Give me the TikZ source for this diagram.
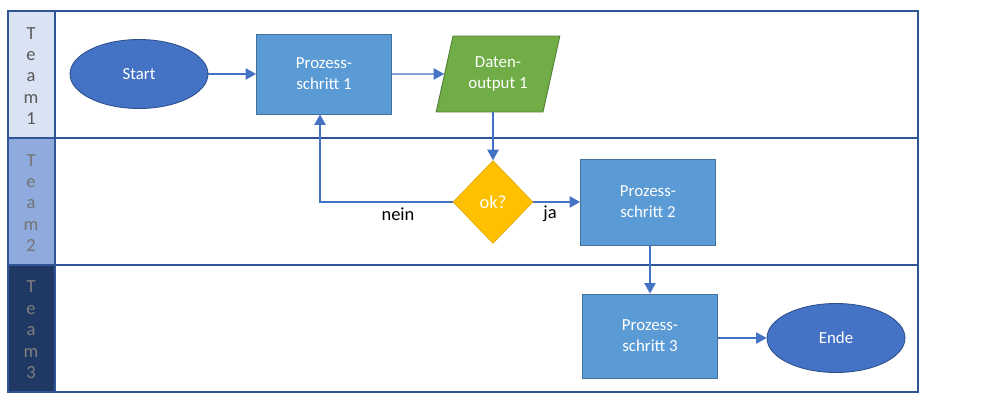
\documentclass[tikz,border=0pt]{standalone}
\usepackage{fontspec}
\setmainfont{Carlito}
\usetikzlibrary{shapes.geometric,arrows.meta}
\definecolor{laneline}{HTML}{2F5597}
\definecolor{teamA}{HTML}{DAE3F3}
\definecolor{teamB}{HTML}{8FAADC}
\definecolor{teamC}{HTML}{203864}
\definecolor{procfill}{HTML}{5B9BD5}
\definecolor{procdraw}{HTML}{41719C}
\definecolor{termfill}{HTML}{4472C4}
\definecolor{termdraw}{HTML}{2F528F}
\definecolor{datafill}{HTML}{70AD47}
\definecolor{datadraw}{HTML}{507E32}
\definecolor{decfill}{HTML}{FFC000}
\definecolor{arrowcol}{HTML}{4472C4}
\tikzset{
  process/.style={rectangle, fill=procfill, draw=procdraw, line width=0.5pt,
    minimum width=2.7cm, minimum height=1.6cm, text=white, align=center},
  terminal/.style={ellipse, fill=termfill, draw=termdraw, line width=0.5pt,
    minimum width=2.76cm, minimum height=1.38cm, text=white},
  dataout/.style={trapezium, trapezium left angle=74, trapezium right angle=106,
    trapezium stretches=true, fill=datafill, draw=datadraw, line width=0.5pt,
    minimum width=2.48cm, minimum height=1.52cm, text=white, align=center},
  decision/.style={diamond, fill=decfill, draw=decfill!85!black, line width=0.3pt,
    minimum width=1.6cm, minimum height=1.66cm, inner sep=0pt, text=white,
    font=\fontsize{10.5}{12}\selectfont},
  flow/.style={draw=arrowcol, line width=0.6pt, -{Triangle[length=6pt,width=6.5pt]}},
  lane/.style={draw=laneline, line width=1.1pt},
  teamlabel/.style={align=center, font=\fontsize{10.5}{12.2}\selectfont},
  branch/.style={text=black, font=\fontsize{10.5}{12}\selectfont}
}
\begin{document}
\begin{tikzpicture}[x=0.02cm, y=-0.02cm, font=\fontsize{9.6}{12}\selectfont]
\useasboundingbox (0,0) rectangle (1000,405);
% team column
\fill[teamA] (8,11) rectangle (55,138);
\fill[teamB] (8,138) rectangle (55,265);
\fill[teamC] (8,265) rectangle (55,392);
\node[teamlabel, text=black!65] (team1) at (31,76) {T\\e\\a\\m\\1};
\node[teamlabel, text=black!55] (team2) at (31,203) {T\\e\\a\\m\\2};
\node[teamlabel, text=black!50] (team3) at (31,330) {T\\e\\a\\m\\3};
% swimlanes
\draw[lane] (8,11) rectangle (918,392);
\draw[lane] (8,138) -- (918,138);
\draw[lane] (8,265) -- (918,265);
\draw[lane] (55,11) -- (55,392);

% shapes
\node[terminal] (start) at (139,74) {Start};
\node[process] (p1) at (324,74) {Prozess-\\schritt 1};
\node[dataout] (out1) at (498,74) {Daten-\\output 1};
\node[decision] (ok) at (493,202) {ok?};
\node[process, minimum height=1.72cm] (p2) at (648,202) {Prozess-\\schritt 2};
\node[process, minimum height=1.68cm] (p3) at (650,336) {Prozess-\\schritt 3};
\node[terminal] (ende) at (836,338) {Ende};

% connectors
\draw[flow] (start) -- (p1);
\draw[flow] (p1) -- (out1);
\draw[flow] (out1.south -| ok.north) -- (ok.north);
\draw[flow] (ok.west) -| (p1.south -| 320,0);
\draw[flow] (ok.east) -- (p2.west |- ok.east);
\draw[flow] (p2.south -| 650,0) -- (p3.north -| 650,0);
\draw[flow] (p3.east |- ende.west) -- (ende.west);
\node[branch] (nein) at (398,214) {nein};
\node[branch] (ja) at (550,214) {ja};
\end{tikzpicture}
\end{document}
